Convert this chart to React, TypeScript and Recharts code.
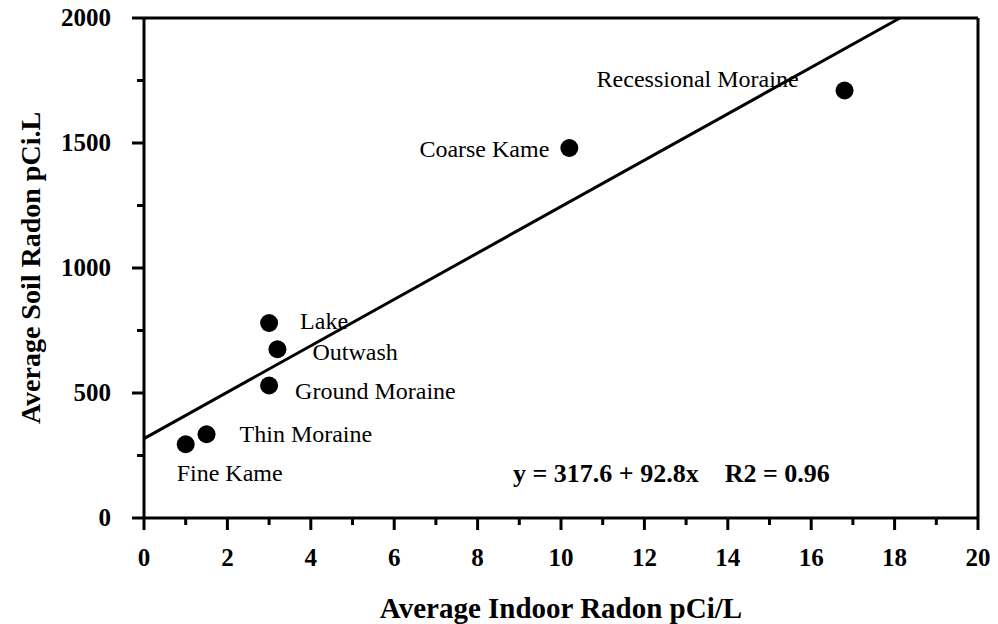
import {
  ComposedChart,
  Scatter,
  XAxis,
  YAxis,
  ReferenceLine,
  ReferenceDot,
} from "recharts";

const sites = ["Fine Kame", "Thin Moraine", "Ground Moraine", "Outwash", "Lake", "Coarse Kame", "Recessional Moraine"];
const indoorRadon = [1.0, 1.5, 3.0, 3.2, 3.0, 10.2, 16.8];
const soilRadon = [295, 335, 530, 675, 780, 1480, 1710];

const xTicks = [0, 1, 2, 3, 4, 5, 6, 7, 8, 9, 10, 11, 12, 13, 14, 15, 16, 17, 18, 19, 20];
const yTicks = [0, 250, 500, 750, 1000, 1250, 1500, 1750, 2000];

const fitIntercept = 317.6;
const fitSlope = 92.8;
const fitR2 = 0.96;

const data = sites.map((name, i) => ({ name, x: indoorRadon[i], y: soilRadon[i] }));
const fitEndX = (2000 - fitIntercept) / fitSlope;

// where each label sits relative to its point
const labelPlacement: Record<string, { dx: number; dy: number; anchor: "start" | "end" }> = {
  "Fine Kame": { dx: -9, dy: 37, anchor: "start" },
  "Thin Moraine": { dx: 33, dy: 8, anchor: "start" },
  "Ground Moraine": { dx: 26, dy: 13, anchor: "start" },
  Outwash: { dx: 35, dy: 11, anchor: "start" },
  Lake: { dx: 31, dy: 6, anchor: "start" },
  "Coarse Kame": { dx: -20, dy: 9, anchor: "end" },
  "Recessional Moraine": { dx: -46, dy: -4, anchor: "end" },
};

const FONT = '"Liberation Serif", "Times New Roman", serif';

const PointWithLabel = (props: any) => {
  const { cx, cy, payload } = props;
  const p = labelPlacement[payload.name];
  return (
    <g>
      <circle cx={cx} cy={cy} r={9} fill="#000" />
      <text x={cx + p.dx} y={cy + p.dy} textAnchor={p.anchor} fontFamily={FONT} fontSize={24} fill="#000">
        {payload.name}
      </text>
    </g>
  );
};

const YTick = (props: any) => {
  const { x, y, payload } = props;
  const major = payload.value % 500 === 0;
  return (
    <g>
      <line x1={x - (major ? 12 : 7)} y1={y} x2={x} y2={y} stroke="#000" strokeWidth={3} />
      {major && (
        <text x={x - 33} y={y + 8} textAnchor="end" fontFamily={FONT} fontSize={25} fontWeight="bold" fill="#000">
          {payload.value}
        </text>
      )}
    </g>
  );
};

const XTick = (props: any) => {
  const { x, y, payload } = props;
  const major = payload.value % 2 === 0;
  return (
    <g>
      <line x1={x} y1={y} x2={x} y2={y + (major ? 12 : 7)} stroke="#000" strokeWidth={3} />
      {major && (
        <text x={x} y={y + 48} textAnchor="middle" fontFamily={FONT} fontSize={25} fontWeight="bold" fill="#000">
          {payload.value}
        </text>
      )}
    </g>
  );
};

const Equation = (props: any) => (
  <text
    x={props.cx}
    y={props.cy}
    fontFamily={FONT}
    fontSize={26}
    fontWeight="bold"
    fill="#000"
    style={{ whiteSpace: "pre" }}
  >
    {`y = ${fitIntercept} + ${fitSlope}x    R2 = ${fitR2}`}
  </text>
);

export default function App() {
  return (
    <div style={{ position: "absolute", left: 0, top: 0, background: "#fff" }}>
      <ComposedChart width={998} height={624} data={data} margin={{ top: 18, right: 20, left: 0, bottom: 0 }}>
        <XAxis
          type="number"
          dataKey="x"
          domain={[0, 20]}
          ticks={xTicks}
          interval={0}
          height={106}
          tickSize={0}
          tickMargin={0}
          tickLine={false}
          tick={<XTick />}
          axisLine={{ stroke: "#000", strokeWidth: 3 }}
          allowDataOverflow
          label={{
            value: "Average Indoor Radon pCi/L",
            position: "insideBottom",
            offset: 6,
            style: { fontFamily: FONT, fontSize: 29, fontWeight: "bold", fill: "#000" },
          }}
        />
        <YAxis
          type="number"
          dataKey="y"
          domain={[0, 2000]}
          ticks={yTicks}
          interval={0}
          width={144}
          tickSize={0}
          tickMargin={0}
          tickLine={false}
          tick={<YTick />}
          axisLine={{ stroke: "#000", strokeWidth: 3 }}
          allowDataOverflow
          label={{
            value: "Average Soil Radon pCi.L",
            angle: -90,
            position: "insideLeft",
            offset: 30,
            style: { fontFamily: FONT, fontSize: 28, fontWeight: "bold", fill: "#000", textAnchor: "middle" },
          }}
        />
        <ReferenceLine y={2000} stroke="#000" strokeWidth={3} />
        <ReferenceLine x={20} stroke="#000" strokeWidth={3} />
        <ReferenceLine
          segment={[
            { x: 0, y: fitIntercept },
            { x: fitEndX, y: 2000 },
          ]}
          stroke="#000"
          strokeWidth={3}
        />
        <ReferenceDot x={8.85} y={144} r={0} shape={<Equation />} />
        <Scatter data={data} dataKey="y" shape={<PointWithLabel />} isAnimationActive={false} />
      </ComposedChart>
    </div>
  );
}
